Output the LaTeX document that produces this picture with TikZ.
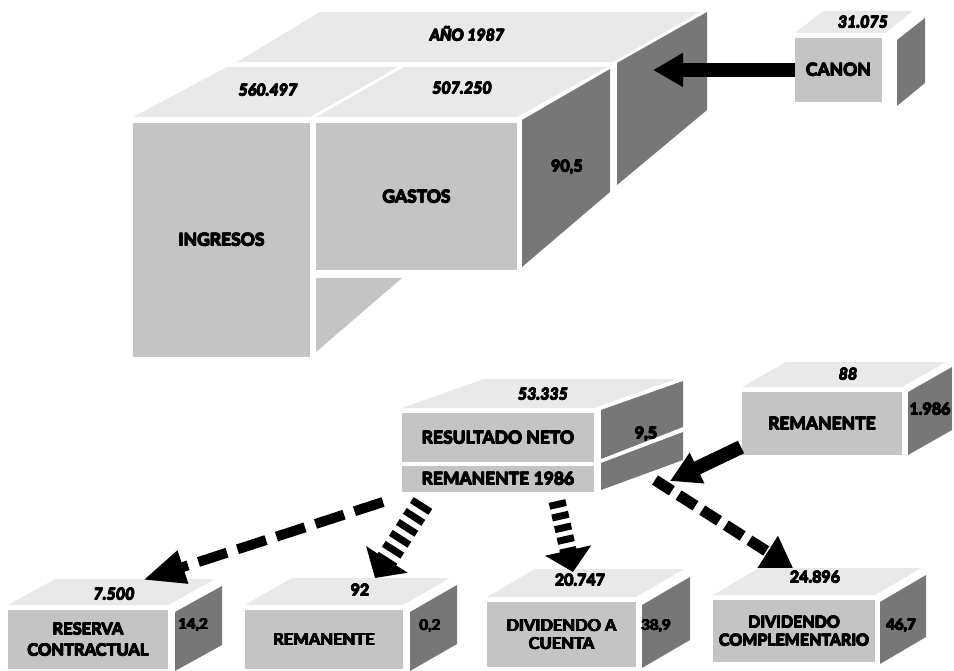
\documentclass[tikz,border=0pt]{standalone}
\usepackage{fontspec}
\setmainfont{Lato}
\usetikzlibrary{arrows.meta}
\definecolor{topc}{HTML}{E9E9E9}
\definecolor{frontc}{HTML}{C4C4C4}
\definecolor{sidec}{HTML}{777777}
\newcommand{\hv}[1]{\leavevmode\rlap{#1}\rlap{\kern0.4pt\raisebox{0.4pt}{#1}}\rlap{\raisebox{0.8pt}{#1}}\rlap{\kern0.8pt\raisebox{0.8pt}{#1}}\rlap{\kern0.4pt#1}\rlap{\kern0.8pt\raisebox{0.4pt}{#1}}\kern0.8pt#1}
\tikzset{
  facebox/.style={fill=frontc, inner sep=0pt, align=center},
  lbl/.style={font=\bfseries\fontsize{17.5}{20}\selectfont},
  blbl/.style={font=\bfseries\fontsize{16.5}{21}\selectfont},
  inum/.style={font=\bfseries\itshape\fontsize{16}{18}\selectfont, inner sep=0pt},
  unum/.style={font=\bfseries\fontsize{16}{18}\selectfont, inner sep=0pt},
  snum/.style={font=\bfseries\fontsize{15}{18}\selectfont, inner sep=0pt},
  solidarrow/.style={line width=14pt, -{Triangle[length=30pt,width=32pt]}},
  longdash/.style={line width=10pt, dash pattern=on 30pt off 11pt, -{Triangle[length=42pt,width=32pt]}},
  bardash/.style={line width=22pt, dash pattern=on 7pt off 6pt, -{Triangle[length=22pt,width=48pt]}},
  bardashb/.style={line width=17pt, dash pattern=on 7pt off 5pt, -{Triangle[length=22pt,width=46pt]}},
  middash/.style={line width=11pt, dash pattern=on 20pt off 8pt, -{Triangle[length=30pt,width=36pt]}},
}
\begin{document}
\begin{tikzpicture}[x=1pt,y=-1pt]
\useasboundingbox (0,0) rectangle (954,671);

% ---------- top cube ----------
\fill[topc] (237,62) -- (613,62) -- (700,12) -- (320,12) -- cycle;
\fill[topc] (133,117) -- (310,117) -- (398,67) -- (227,67) -- cycle;
\fill[topc] (316,117) -- (517,117) -- (607,67) -- (404,67) -- cycle;
\fill[sidec] (522,120) -- (610,69) -- (610,192) -- (522,267) -- cycle;
\fill[sidec] (617,63) -- (707,12) -- (707,110) -- (617,185) -- cycle;
\fill[frontc] (316,278) -- (402,278) -- (316,352) -- cycle;
\node[facebox, lbl, minimum width=177pt, minimum height=234pt] (ingresos) at (221.5,240) {\hv{INGRESOS}};
\node[facebox, lbl, minimum width=201pt, minimum height=147pt] (gastos) at (416.5,196.5) {\hv{GASTOS}};
\node[inum] (ano) at (467,34) {\hv{AÑO 1987}};
\node[inum] (ningresos) at (268,90) {\hv{560.497}};
\node[inum] (ngastos) at (462,88) {\hv{507.250}};
\node[unum] (pgastos) at (567,167) {\hv{90,5}};

% ---------- canon ----------
\fill[topc] (795,33) -- (885,33) -- (913,11) -- (823,11) -- cycle;
\fill[sidec] (897,40) -- (925,18) -- (925,83) -- (897,106) -- cycle;
\node[facebox, lbl, minimum width=87pt, minimum height=64pt] (canon) at (838.5,70) {\hv{CANON}};
\node[inum] (ncanon) at (863,22) {\hv{31.075}};
\coordinate (canontip) at (653,70);
\draw[solidarrow] (canon.west) -- (canontip);

% ---------- resultado neto ----------
\fill[topc] (402,408) -- (594,408) -- (676,379) -- (484,379) -- cycle;
\fill[sidec] (601,410) -- (683,381) -- (683,427) -- (601,459) -- cycle;
\fill[sidec] (601,463) -- (683,432) -- (683,460) -- (601,490) -- cycle;
\node[facebox, lbl, minimum width=192pt, minimum height=49pt] (resneto) at (498,437.5) {\hv{RESULTADO NETO}};
\node[facebox, lbl, minimum width=192pt, minimum height=26pt] (rem86) at (498,479) {\hv{REMANENTE 1986}};
\node[inum] (nres) at (543,394) {\hv{53.335}};
\node[unum] (pres) at (646,434) {\hv{9,5}};

% ---------- remanente (right) ----------
\fill[topc] (742,387) -- (902,387) -- (946,362) -- (786,362) -- cycle;
\fill[sidec] (908,392) -- (952,367) -- (952,430) -- (908,455) -- cycle;
\node[facebox, lbl, minimum width=160pt, minimum height=63pt] (remR) at (822,423.5) {\hv{REMANENTE}};
\node[inum] (nremR) at (848,374) {\hv{88}};
\node[unum] (premR) at (930,409) {\hv{1.986}};
\coordinate (remRs) at (741,447);
\coordinate (remRt) at (670,481);
\draw[solidarrow] (remRs) -- (remRt);

% ---------- bottom boxes ----------
% 1
\fill[topc] (8,605) -- (168,605) -- (215,579) -- (55,579) -- cycle;
\fill[sidec] (175,612) -- (222,586) -- (222,645) -- (175,671) -- cycle;
\node[facebox, blbl, minimum width=160pt, minimum height=59pt] (b1) at (88,639.5) {\hv{RESERVA}\\\hv{CONTRACTUAL}};
\node[inum] (nb1) at (114,594) {\hv{7.500}};
\node[snum] (pb1) at (193,625) {\hv{14,2}};
% 2
\fill[topc] (245,605) -- (403,605) -- (450,578) -- (292,578) -- cycle;
\fill[sidec] (410,612) -- (457,585) -- (457,644) -- (410,671) -- cycle;
\node[facebox, blbl, minimum width=158pt, minimum height=59pt] (b2) at (324,639.5) {\hv{REMANENTE}};
\node[unum] (nb2) at (360,590) {\hv{92}};
\node[snum] (pb2) at (430,626) {\hv{0,2}};
% 3
\fill[topc] (487,597) -- (636,597) -- (684,569) -- (535,569) -- cycle;
\fill[sidec] (642,605) -- (690,577) -- (690,640) -- (642,668) -- cycle;
\node[facebox, font=\bfseries\fontsize{16.5}{18}\selectfont, minimum width=149pt, minimum height=65pt] (b3) at (561.5,634.5) {\hv{DIVIDENDO A}\\\hv{CUENTA}};
\node[unum] (nb3) at (580,580) {\hv{20.747}};
\node[snum] (pb3) at (656,626) {\hv{38,9}};
% 4
\fill[topc] (713,595) -- (875,595) -- (921,568) -- (759,568) -- cycle;
\fill[sidec] (880,602) -- (926,575) -- (926,637) -- (880,664) -- cycle;
\node[facebox, font=\bfseries\fontsize{16}{18}\selectfont, minimum width=162pt, minimum height=62pt] (b4) at (794,631) {\hv{DIVIDENDO}\\\hv{COMPLEMENTARIO}};
\node[unum] (nb4) at (815,577) {\hv{24.896}};
\node[snum] (pb4) at (901,626) {\hv{46,7}};

% ---------- dashed arrows ----------
\coordinate (s1) at (383,502);
\coordinate (t1) at (143,580);
\coordinate (s2) at (423,503);
\coordinate (t2) at (375,578);
\coordinate (s3) at (557,501);
\coordinate (t3) at (573,572);
\coordinate (s4) at (655,480);
\coordinate (t4) at (793,568);
\draw[longdash] (s1) -- (t1);
\draw[bardash] (s2) -- (t2);
\draw[bardashb] (s3) -- (t3);
\draw[middash] (s4) -- (t4);
\end{tikzpicture}
\end{document}
